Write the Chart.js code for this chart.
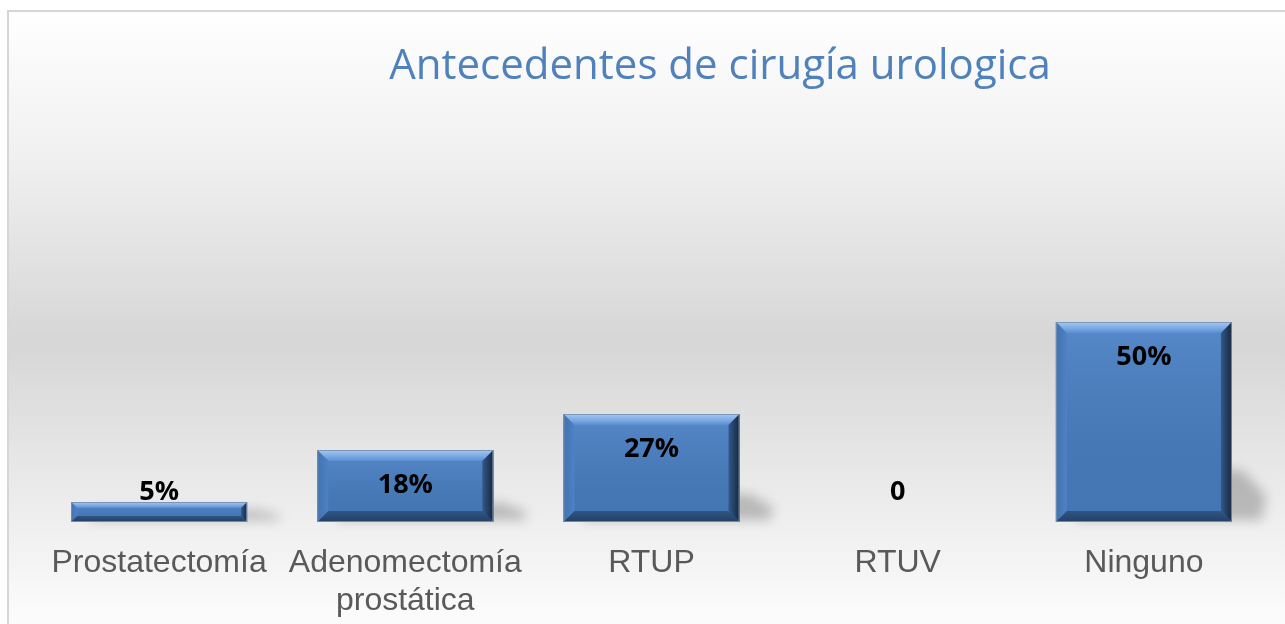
<!DOCTYPE html>
<html>
<head>
<meta charset="utf-8">
<script src="https://cdn.jsdelivr.net/npm/chart.js@4.4.1/dist/chart.umd.min.js"></script>
<style>
  html, body { margin: 0; padding: 0; background: #ffffff; }
  #wrap { width: 1285px; height: 624px; position: relative; }
</style>
</head>
<body>
<div id="wrap"><canvas id="c"></canvas></div>
<script>
// ---- data ----
const chartTitle = 'Antecedentes de cirugía urologica';
const categories = ['Prostatectomía', ['Adenomectomía', 'prostática'], 'RTUP', 'RTUV', 'Ninguno'];
const values = [5, 18, 27, 0, 50];
const valueLabels = ['5%', '18%', '27%', '0', '50%'];
const yMin = 0;
const yMax = 100;

// ---- plugins ----
const backgroundPlugin = {
  id: 'bgPanel',
  beforeDraw(chart) {
    const ctx = chart.ctx;
    ctx.save();
    ctx.fillStyle = '#ffffff';
    ctx.fillRect(0, 0, chart.width, chart.height);
    const g = ctx.createLinearGradient(0, 11, 0, chart.height);
    g.addColorStop(0, '#ffffff');
    g.addColorStop(0.24, '#f0f0f0');
    g.addColorStop(0.54, '#d6d6d6');
    g.addColorStop(0.75, '#e8e8e8');
    g.addColorStop(1, '#fcfcfc');
    ctx.fillStyle = g;
    ctx.fillRect(8, 11, chart.width, chart.height);
    ctx.strokeStyle = '#d6d6d6';
    ctx.lineWidth = 2;
    ctx.beginPath();
    ctx.moveTo(8, chart.height + 2);
    ctx.lineTo(8, 11);
    ctx.lineTo(chart.width + 2, 11);
    ctx.stroke();
    // title
    ctx.font = '42px "Open Sans"';
    ctx.fillStyle = '#4f81bd';
    ctx.textAlign = 'center';
    ctx.textBaseline = 'alphabetic';
    ctx.fillText(chartTitle, 720, 79);
    ctx.restore();
  }
};

const shadowPlugin = {
  id: 'barShadow',
  beforeDatasetsDraw(chart) {
    const ctx = chart.ctx;
    const meta = chart.getDatasetMeta(0);
    ctx.save();
    meta.data.forEach((el) => {
      const p = el.getProps(['x', 'y', 'base', 'width'], true);
      const h = p.base - p.y;
      if (h <= 1) return;
      const l = p.x - p.width / 2, r = p.x + p.width / 2;
      const sh = Math.max(12, h * 0.26);
      ctx.filter = 'blur(6px)';
      ctx.fillStyle = 'rgba(0,0,0,0.22)';
      ctx.beginPath();
      ctx.moveTo(l + 20, p.base - sh);
      ctx.lineTo(r + 10, p.base - sh);
      ctx.lineTo(r + 34, p.base - sh * 0.5);
      ctx.lineTo(r + 30, p.base - 2);
      ctx.lineTo(l + 20, p.base - 2);
      ctx.closePath();
      ctx.fill();
    });
    ctx.filter = 'none';
    ctx.restore();
  }
};

const bevelPlugin = {
  id: 'barBevel',
  afterDatasetsDraw(chart) {
    const ctx = chart.ctx;
    const meta = chart.getDatasetMeta(0);
    ctx.save();
    meta.data.forEach((el, i) => {
      const p = el.getProps(['x', 'y', 'base', 'width'], true);
      const h = p.base - p.y;
      const l = p.x - p.width / 2, r = p.x + p.width / 2, t = p.y, bt = p.base;
      if (h > 1) {
        const b = Math.min(11, h * 0.3);
        // face shading
        const fg = ctx.createLinearGradient(0, t, 0, bt);
        fg.addColorStop(0, 'rgba(110,160,225,0.35)');
        fg.addColorStop(1, 'rgba(30,60,110,0.12)');
        ctx.fillStyle = fg;
        ctx.fillRect(l, t, r - l, h);
        // top bevel
        const tg = ctx.createLinearGradient(0, t, 0, t + b);
        tg.addColorStop(0, '#a4c8f2');
        tg.addColorStop(0.5, '#80ade6');
        tg.addColorStop(1, '#5b8ed1');
        ctx.fillStyle = tg;
        ctx.beginPath();
        ctx.moveTo(l, t); ctx.lineTo(r, t); ctx.lineTo(r - b, t + b); ctx.lineTo(l + b, t + b);
        ctx.closePath(); ctx.fill();
        // left bevel
        const lg = ctx.createLinearGradient(l, 0, l + b, 0);
        lg.addColorStop(0, '#4272b0');
        lg.addColorStop(1, '#4e82c4');
        ctx.fillStyle = lg;
        ctx.beginPath();
        ctx.moveTo(l, t); ctx.lineTo(l + b, t + b); ctx.lineTo(l + b, bt - b); ctx.lineTo(l, bt);
        ctx.closePath(); ctx.fill();
        // right bevel
        const rg = ctx.createLinearGradient(r - b, 0, r, 0);
        rg.addColorStop(0, '#33598a');
        rg.addColorStop(1, '#16263d');
        ctx.fillStyle = rg;
        ctx.beginPath();
        ctx.moveTo(r, t); ctx.lineTo(r, bt); ctx.lineTo(r - b, bt - b); ctx.lineTo(r - b, t + b);
        ctx.closePath(); ctx.fill();
        // bottom bevel
        const bg = ctx.createLinearGradient(0, bt - b, 0, bt);
        bg.addColorStop(0, '#2f5585');
        bg.addColorStop(1, '#243f63');
        ctx.fillStyle = bg;
        ctx.beginPath();
        ctx.moveTo(l, bt); ctx.lineTo(r, bt); ctx.lineTo(r - b, bt - b); ctx.lineTo(l + b, bt - b);
        ctx.closePath(); ctx.fill();
        // outline
        ctx.strokeStyle = 'rgba(120,145,180,0.9)';
        ctx.lineWidth = 1;
        ctx.strokeRect(l + 0.5, t + 0.5, r - l - 1, h - 1);
      }
      // value label
      ctx.font = 'bold 27px "Open Sans"';
      ctx.fillStyle = '#000000';
      ctx.textAlign = 'center';
      ctx.textBaseline = 'middle';
      const cy = h > 50 ? t + 35 : bt - 30;
      ctx.fillText(valueLabels[i], p.x, cy);
    });
    ctx.restore();
  }
};

function build() {
  const ctx = document.getElementById('c');
  new Chart(ctx, {
    type: 'bar',
    data: {
      labels: categories,
      datasets: [{
        data: values,
        backgroundColor: '#4a7ebe',
        borderWidth: 0,
        categoryPercentage: 1.0,
        barPercentage: 0.715
      }]
    },
    options: {
      responsive: true,
      maintainAspectRatio: false,
      animation: false,
      devicePixelRatio: 1,
      layout: { padding: { top: 122, left: 36, right: 18, bottom: 0 } },
      plugins: {
        legend: { display: false },
        title: { display: false },
        tooltip: { enabled: false }
      },
      scales: {
        x: {
          grid: { display: false, drawTicks: false },
          border: { display: false },
          ticks: {
            color: '#595959',
            font: { family: '"Liberation Sans", Arial, sans-serif', size: 32, lineHeight: 1.16 },
            padding: 23,
            maxRotation: 0,
            autoSkip: false
          },
          afterFit(scale) { scale.height = 102; }
        },
        y: {
          display: false,
          min: yMin,
          max: yMax
        }
      }
    },
    plugins: [backgroundPlugin, shadowPlugin, bevelPlugin]
  });
}

Promise.all([
  document.fonts.load('42px "Open Sans"'),
  document.fonts.load('bold 27px "Open Sans"'),
  document.fonts.load('32px "Liberation Sans"')
]).then(build, build);
</script>
</body>
</html>
